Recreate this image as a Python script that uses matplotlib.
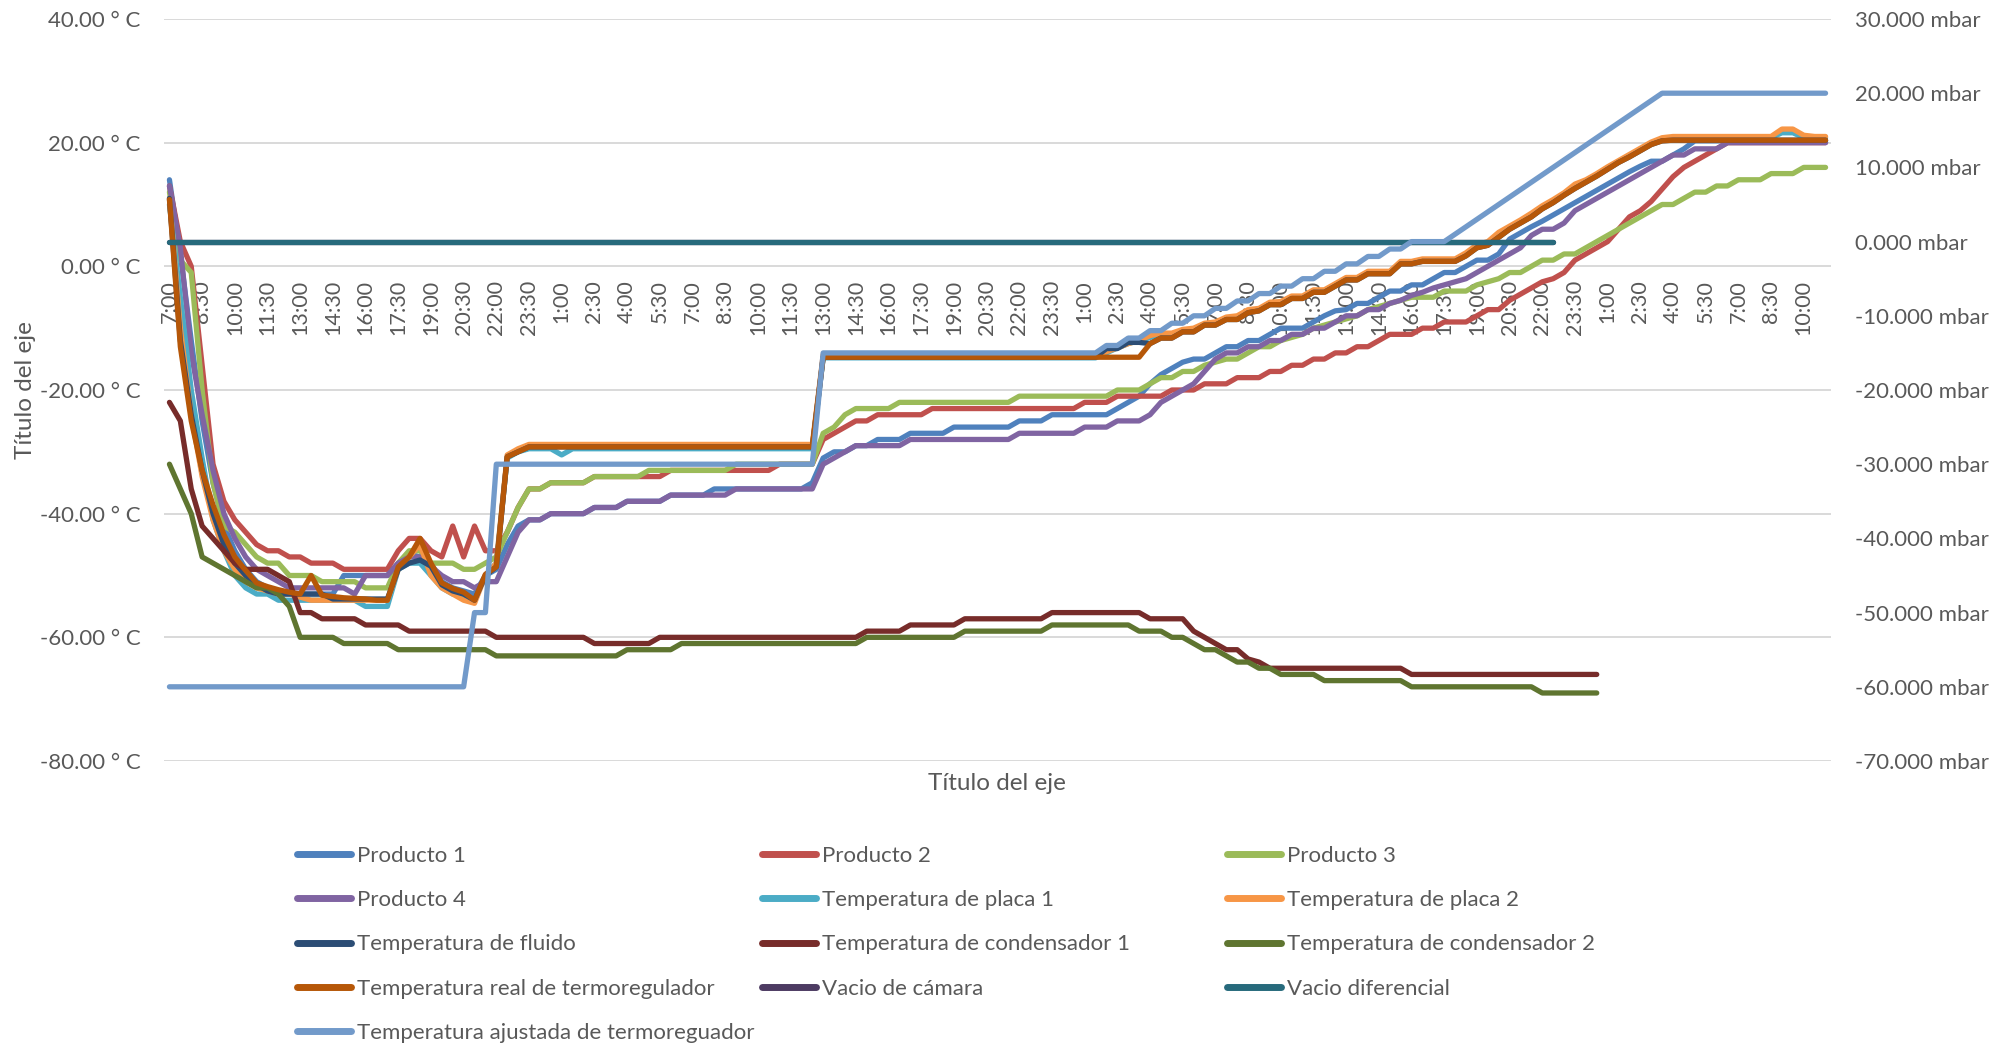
import matplotlib.pyplot as plt
from matplotlib.lines import Line2D
import numpy as np

plt.rcParams['font.family'] = ['Lato', 'DejaVu Sans']

GRIS = '#595959'

# Etiquetas del eje de categorías (una cada tres lecturas de 30 min)
horas = ['7:00', '8:30', '10:00', '11:30', '13:00', '14:30', '16:00', '17:30', '19:00', '20:30',
         '22:00', '23:30', '1:00', '2:30', '4:00', '5:30', '7:00', '8:30', '10:00', '11:30',
         '13:00', '14:30', '16:00', '17:30', '19:00', '20:30', '22:00', '23:30', '1:00', '2:30',
         '4:00', '5:30', '7:00', '8:30', '10:00', '11:30', '13:00', '14:30', '16:00', '17:30',
         '19:00', '20:30', '22:00', '23:30', '1:00', '2:30', '4:00', '5:30', '7:00', '8:30', '10:00']
n_lecturas = 153

# Temperaturas (° C), una lectura cada 30 min
producto_1 = ([14, 2, -12, -25, -35, -42, -46, -49, -51, -52] + [-53] * 6 + [-50] * 5
              + [-48, -46.5, -47, -48, -51, -52, -52.5, -53, -50, -49, -45, -42]
              + [-41] * 2 + [-40] * 4 + [-39] * 3 + [-38] * 4 + [-37] * 4 + [-36] * 9 + [-35, -31]
              + [-30] * 2 + [-29] * 2 + [-28] * 3 + [-27] * 4 + [-26] * 6 + [-25] * 3 + [-24] * 6
              + [-23, -22, -21, -19, -17.5, -16.5, -15.5] + [-15] * 2 + [-14] + [-13] * 2 + [-12] * 2
              + [-11] + [-10] * 3 + [-9, -8, -7.2, -7] + [-6] * 2 + [-5] + [-4] * 2 + [-3] * 2 + [-2]
              + [-1] * 2 + [0] + [1] * 2
              + [2, 4.4, 5.4, 6.4, 7.3, 8.3, 9.3, 10.3, 11.3, 12.3, 13.3, 14.3, 15.3, 16.2]
              + [17] * 2 + [18, 19] + [20.3] * 13)

producto_2 = ([13, 4, 0, -16, -32, -38, -41, -43, -45, -46, -46, -47, -47, -48, -48, -48] + [-49] * 5
              + [-46, -44, -44, -46, -47, -42, -47, -42, -46, -46, -43, -39]
              + [-36] * 2 + [-35] * 4 + [-34] * 7 + [-33] * 10 + [-32] * 4 + [-28, -27, -26]
              + [-25] * 2 + [-24] * 5 + [-23] * 14 + [-22] * 3 + [-21] * 5 + [-20] * 3 + [-19] * 3
              + [-18] * 3 + [-17] * 2 + [-16] * 2 + [-15] * 2 + [-14] * 2 + [-13] * 2 + [-12]
              + [-11] * 3 + [-10] * 2 + [-9] * 3 + [-8] + [-7] * 2
              + [-5.5, -4.5, -3.5, -2.5, -2, -1, 1, 2, 3, 4, 6, 8, 9, 10.5, 12.5, 14.5, 16, 17, 18, 19]
              + [20] * 10)

producto_3 = ([12, 1, -1, -20, -35, -42, -43, -45, -47, -48, -48] + [-50] * 3 + [-51] * 4 + [-52] * 3
              + [-48, -46, -46] + [-48] * 3 + [-49] * 2 + [-48, -47, -43, -39]
              + [-36] * 2 + [-35] * 4 + [-34] * 5 + [-33] * 8 + [-32] * 8 + [-27, -26, -24]
              + [-23] * 4 + [-22] * 11 + [-21] * 9 + [-20] * 3 + [-19] + [-18] * 2 + [-17] * 2
              + [-16, -15.5] + [-15] * 2 + [-14] + [-13] * 2
              + [-12, -11.5, -11, -10, -9.5, -9, -8.5, -8, -7, -6.5, -6, -5.5]
              + [-5] * 3 + [-4] * 3 + [-3, -2.5, -2] + [-1] * 2 + [0] + [1] * 2 + [2] * 2
              + [3, 4, 5, 6, 7, 8, 9] + [10] * 2 + [11] + [12] * 2 + [13] * 2 + [14] * 3
              + [15] * 3 + [16] * 3)

producto_4 = ([13, 3, -14, -24, -33, -40, -44, -47, -49, -50, -51] + [-52] * 6
              + [-53, -50, -50, -50, -48] + [-47] * 2 + [-48.5, -50] + [-51] * 2
              + [-52, -51, -51, -47, -43] + [-41] * 2 + [-40] * 4 + [-39] * 3 + [-38] * 4
              + [-37] * 6 + [-36] * 8 + [-32, -31, -30] + [-29] * 5 + [-28] * 10 + [-27] * 6
              + [-26] * 3 + [-25] * 3 + [-24, -22, -21, -20, -19, -17, -15] + [-14] * 2 + [-13] * 2
              + [-12] * 2 + [-11] * 2 + [-10] * 2 + [-9] + [-8] * 2 + [-7] * 2
              + [-6, -5.5, -4.7, -4.2, -3.5, -3, -2.5, -2, -1, 0, 1, 2, 3, 5] + [6] * 2
              + [7, 9, 10, 11, 12, 13, 14, 15, 16, 17] + [18] * 2 + [19] * 3 + [20] * 10)

placa_1 = ([10, -5, -20, -31, -41, -46, -50, -52, -53, -53] + [-54] * 8 + [-55] * 3
           + [-49, -48, -48, -50, -52, -53, -53.5, -54, -50, -48, -31, -30]
           + [-29.5] * 3 + [-30.5] + [-29.5] * 23 + [-14.8] * 26 + [-14, -13.2, -12.5, -12]
           + [-11.5, -11, -11, -10.4, -10.2, -9.4, -9.2, -8.4, -8.2, -7.2, -7, -6, -5.9, -5, -5,
              -4, -4, -3, -2, -2, -1, -1, -1, 0.6, 0.6, 1, 1, 1, 1, 2, 3.3, 3.8, 5.2, 6.3, 7.3,
              8.4, 9.6, 10.6, 11.7, 12.9, 13.8, 14.8, 15.9, 16.9, 17.9, 18.9, 19.9, 20.6]
           + [20.8] * 10 + [21.6] * 2 + [20.8] * 3)

placa_2 = ([11, -10, -24, -34, -41, -46, -49, -51, -52, -52.5, -53, -53, -53.5] + [-54] * 8
           + [-49, -47, -45, -50, -52, -53, -54, -54.5, -50, -48, -30.5, -29.5]
           + [-28.8] * 27 + [-14.3] * 26
           + [-13.8, -13.2, -12.5, -12, -11.2, -10.8, -10.8, -10.2, -10, -9.2, -9, -8.2, -8, -7,
              -6.8, -5.8, -5.7, -4.8, -4.8, -3.8, -3.8, -2.8, -1.8, -1.8, -0.8, -0.8, -0.8, 0.8,
              0.8, 1.2, 1.2, 1.2, 1.2, 2.2, 3.5, 4, 5.5, 6.5, 7.5, 8.6, 9.8, 10.8, 11.9, 13.3, 14,
              15, 16.1, 17.1, 18.1, 19.1, 20.1, 20.8]
           + [21] * 10 + [22.2] * 2 + [21.2] + [21] * 2)

# Subida final común a fluido y termorregulador
rampa_termo = [-12.5, -11.6, -11.6, -10.6, -10.6, -9.5, -9.5, -8.6, -8.6, -7.5, -7.2, -6.2, -6.2,
               -5.2, -5.2, -4.2, -4.2, -3.2, -2.2, -2.2, -1.2, -1.2, -1.2, 0.4, 0.4, 0.8, 0.8, 0.8,
               0.8, 1.7, 3, 3.4, 4.7, 6, 7, 8, 9.3, 10.3, 11.5, 12.6, 13.6, 14.6, 15.7, 16.8, 17.7,
               18.7, 19.7, 20.3] + [20.4] * 15

fluido = ([11, -12, -24, -33, -40, -45, -48, -50, -51.5, -52.5] + [-53] * 5 + [-53.8] * 6
          + [-49, -48, -47.5, -48.5, -51.5, -52.5, -53, -54, -50, -48.6, -30.8, -30]
          + [-29.2] * 27 + [-14.7] * 26 + [-13.3] * 2 + [-12.3] * 2 + rampa_termo)

condensador_1 = ([-22, -25, -36, -42, -44, -46, -48, -49, -49, -49, -50, -51] + [-56] * 2 + [-57] * 4
                 + [-58] * 4 + [-59] * 8 + [-60] * 9 + [-61] * 6 + [-60] * 19 + [-59] * 4
                 + [-58] * 5 + [-57] * 8 + [-56] * 9 + [-57] * 4 + [-59, -60, -61] + [-62] * 2
                 + [-63.5, -64] + [-65] * 13 + [-66] * 18)

condensador_2 = ([-32, -36, -40, -47, -48, -49, -50, -51, -52, -52, -53, -55] + [-60] * 4 + [-61] * 5
                 + [-62] * 9 + [-63] * 12 + [-62] * 5 + [-61] * 17 + [-60] * 9 + [-59] * 8
                 + [-58] * 8 + [-59] * 3 + [-60] * 2 + [-61] + [-62] * 2 + [-63] + [-64] * 2
                 + [-65] * 2 + [-66] * 4 + [-67] * 8 + [-68] * 12 + [-69] * 6)

termorregulador = ([10.8, -13, -25, -33, -38.6, -43.4, -47, -49.2, -51.2, -51.8, -52.3, -52.7, -53]
                   + [-50, -53.2, -53.4, -53.6, -53.7, -53.8, -54, -54]
                   + [-48.6, -47, -44, -48, -51.2, -52.1, -52.7, -54, -49.8, -48.6, -30.8, -30]
                   + [-29.2] * 27 + [-14.7] * 30 + rampa_termo)

# Eje secundario (mbar)
vacio_camara = [0] * 128
vacio_diferencial = [0] * 128
ajustada = ([-60] * 28 + [-50] * 2 + [-30] * 30 + [-15] * 26
            + [-14] * 2 + [-13] * 2 + [-12] * 2 + [-11] * 2 + [-10] * 2 + [-9] * 2 + [-8] * 2
            + [-7] * 2 + [-6] * 2 + [-5] * 2 + [-4] * 2 + [-3] * 2 + [-2] * 2 + [-1] * 2
            + [0] * 4 + [1, 2, 3, 4, 5, 6, 7, 8, 9, 10, 11, 12, 13, 14, 15, 16, 17, 18, 19]
            + [20] * 16)

series_temp = [
    ('Producto 1', producto_1, '#4F81BD'),
    ('Producto 2', producto_2, '#C0504D'),
    ('Producto 3', producto_3, '#9BBB59'),
    ('Producto 4', producto_4, '#8064A2'),
    ('Temperatura de placa 1', placa_1, '#4BACC6'),
    ('Temperatura de placa 2', placa_2, '#F79646'),
    ('Temperatura de fluido', fluido, '#2C4D75'),
    ('Temperatura de condensador 1', condensador_1, '#772C2A'),
    ('Temperatura de condensador 2', condensador_2, '#5F7530'),
    ('Temperatura real de termoregulador', termorregulador, '#B65708'),
]
series_vacio = [
    ('Vacio de cámara', vacio_camara, '#4D3B62'),
    ('Vacio diferencial', vacio_diferencial, '#276A7C'),
    ('Temperatura ajustada de termoreguador', ajustada, '#729ACA'),
]

LW = 3.8
fig = plt.figure(figsize=(20.02, 10.46), dpi=100)
ax = fig.add_axes([164 / 2002, 1 - 761 / 1046, 1667 / 2002, 742 / 1046])
ax2 = ax.twinx()

x = np.arange(n_lecturas)
for nombre, valores, color in series_temp:
    ax.plot(x[:len(valores)], valores, color=color, lw=LW,
            solid_joinstyle='round', solid_capstyle='round')
for nombre, valores, color in series_vacio:
    ax2.plot(x[:len(valores)], valores, color=color, lw=LW,
             solid_joinstyle='round', solid_capstyle='round')

ax.set_xlim(-0.5, n_lecturas - 0.5)
ax.set_ylim(-80, 40)
ax2.set_ylim(-70, 30)

# el eje de categorías corta en 0 ° C
ax.spines['bottom'].set_position(('data', 0))

yt = np.arange(-80, 41, 20)
ax.set_yticks(yt)
ax.set_yticklabels([f'{v:.2f} ° C' for v in yt])
yt2 = np.arange(-70, 31, 10)
ax2.set_yticks(yt2)
ax2.set_yticklabels([f'{v:.3f} mbar' for v in yt2])

ax.set_xticks(np.arange(0, n_lecturas, 3))
ax.set_xticklabels(horas)

for a in (ax, ax2):
    for s in a.spines.values():
        s.set_visible(False)
ax.tick_params(axis='x', length=0, pad=10, labelsize=15.5, labelcolor=GRIS, labelrotation=90)
ax.tick_params(axis='y', length=0, pad=17, labelsize=16, labelcolor=GRIS)
ax2.tick_params(axis='y', length=0, pad=17, labelsize=16, labelcolor=GRIS)

ax.yaxis.grid(True, color='#D9D9D9', lw=1.4)
ax.set_axisbelow(True)

fig.text(0.498, 1 - 783 / 1046, 'Título del eje', ha='center', va='center', fontsize=17.5, color=GRIS)
fig.text(25 / 2002, 1 - 390 / 1046, 'Título del eje', ha='center', va='center', rotation=90,
         fontsize=17.5, color=GRIS)

# Leyenda en tres columnas de ancho fijo
todas = series_temp + series_vacio
columnas = [todas[0::3], todas[1::3], todas[2::3]]
for k, col in enumerate(columnas):
    handles = [Line2D([], [], color=c, lw=5, solid_capstyle='round') for _, _, c in col]
    labels = [n for n, _, _ in col]
    fig.legend(handles, labels, loc='upper left', bbox_to_anchor=((297 + 465 * k) / 2002, 1 - 846 / 1046),
               frameon=False, borderpad=0, borderaxespad=0, handlelength=2.45, handletextpad=0.25,
               labelspacing=1.09, fontsize=16, labelcolor=GRIS)

fig.savefig('out.png', dpi=100)
